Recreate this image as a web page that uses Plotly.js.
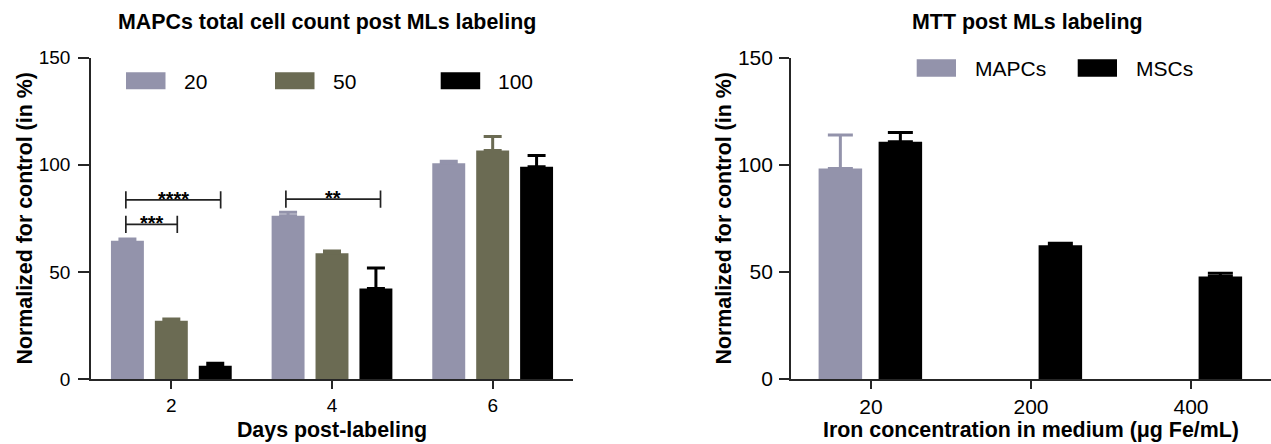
<!DOCTYPE html>
<html>
<head>
<meta charset="utf-8">
<script src="https://cdn.plot.ly/plotly-3.0.1.min.js"></script>
<style>html,body{margin:0;padding:0;background:#fff;}#chart{width:1271px;height:444px;}</style>
</head>
<body>
<div id="chart"></div>
<script>
// ---------- data ----------
const dayCategories = ['2', '4', '6'];
const doseNames = ['20', '50', '100'];
const dose20 = [64.6, 76.2, 100.7];
const dose20Err = [0.8, 1.6, 1.0];
const dose50 = [27.2, 58.7, 106.7];
const dose50Err = [0.8, 1.0, 6.5];
const dose100 = [6.2, 42.2, 99.1];
const dose100Err = [1.2, 9.6, 5.2];

const ironCategories = ['20', '200', '400'];
const cellNames = ['MAPCs', 'MSCs'];
const mapcsMTT = [98.3, null, null];
const mapcsMTTErr = [15.6, null, null];
const mscsMTT = [110.8, 62.5, 47.8];
const mscsMTTErr = [4.3, 0.9, 1.6];

// significance brackets on the left chart (category index units, value units)
const sigFrom = [-0.283, -0.283, 0.713];
const sigTo = [0.307, 0.037, 1.302];
const sigLevel = [83.6, 72.2, 84.0];
const sigLabel = ['****', '***', '**'];

// ---------- style ----------
const FONT = 'Liberation Sans, Arial, Helvetica, sans-serif';
const W = 1271, H = 444;
const colorsLeft = ['#9393ab', '#6b6b53', '#000000'];
const colorsRight = ['#9393ab', '#000000'];
const axisColor = '#262626';
const BOLD = 21.4;
const px = v => v / W;
const py = v => 1 - v / H;

const leftSeries = [dose20, dose50, dose100];
const leftErr = [dose20Err, dose50Err, dose100Err];
const rightSeries = [mapcsMTT, mscsMTT];
const rightErr = [mapcsMTTErr, mscsMTTErr];
const rightOffset = [-0.3275, 0.0475];

const traces = [];
leftSeries.forEach((vals, i) => {
  traces.push({
    type: 'bar', x: dayCategories, y: vals, name: doseNames[i],
    xaxis: 'x', yaxis: 'y',
    marker: {color: colorsLeft[i], line: {width: 0}},
    error_y: {type: 'data', symmetric: false, array: leftErr[i],
      arrayminus: leftErr[i].map(() => 0), color: colorsLeft[i], thickness: 3, width: 9},
    showlegend: false, hoverinfo: 'x+y'
  });
});
rightSeries.forEach((vals, i) => {
  traces.push({
    type: 'bar', x: ironCategories, y: vals, name: cellNames[i],
    xaxis: 'x2', yaxis: 'y2',
    width: 0.272, offset: rightOffset[i],
    marker: {color: colorsRight[i], line: {width: 0}},
    error_y: {type: 'data', symmetric: false, array: rightErr[i],
      arrayminus: rightErr[i].map(v => v === null ? null : 0), color: colorsRight[i], thickness: 3, width: 12.5},
    showlegend: false, hoverinfo: 'x+y'
  });
});

const shapes = [];
const annotations = [];

// brackets
sigFrom.forEach((x0, i) => {
  const x1 = sigTo[i], y = sigLevel[i], h = 4;
  const line = {color: '#222', width: 1.7};
  shapes.push({type: 'line', xref: 'x', yref: 'y', x0: x0, x1: x1, y0: y, y1: y, line});
  shapes.push({type: 'line', xref: 'x', yref: 'y', x0: x0, x1: x0, y0: y - h, y1: y + h, line});
  shapes.push({type: 'line', xref: 'x', yref: 'y', x0: x1, x1: x1, y0: y - h, y1: y + h, line});
  annotations.push({xref: 'x', yref: 'y', x: (x0 + x1) / 2, y: y, text: '<b>' + sigLabel[i] + '</b>',
    showarrow: false, xanchor: 'center', yanchor: 'middle', yshift: 1,
    font: {family: FONT, size: 20, color: '#000'}});
});

// custom legends
const legLeftSwatch = [126, 275, 440.7];
doseNames.forEach((n, i) => {
  shapes.push({type: 'rect', xref: 'paper', yref: 'paper', x0: px(legLeftSwatch[i]), x1: px(legLeftSwatch[i] + 39.5),
    y0: py(89.3), y1: py(72.3), fillcolor: colorsLeft[i], line: {width: 0}});
  annotations.push({xref: 'paper', yref: 'paper', x: px(legLeftSwatch[i] + 55.5), y: py(81), text: n,
    showarrow: false, xanchor: 'left', yanchor: 'middle', font: {family: FONT, size: 21, color: '#000'}});
});
const legRightSwatch = [916.7, 1077.7];
cellNames.forEach((n, i) => {
  shapes.push({type: 'rect', xref: 'paper', yref: 'paper', x0: px(legRightSwatch[i]), x1: px(legRightSwatch[i] + 39.3),
    y0: py(76.7), y1: py(59.3), fillcolor: colorsRight[i], line: {width: 0}});
  annotations.push({xref: 'paper', yref: 'paper', x: px(legRightSwatch[i] + 56), y: py(68), text: n,
    showarrow: false, xanchor: 'left', yanchor: 'middle', font: {family: FONT, size: 21, color: '#000'}});
});

// chart titles
annotations.push({xref: 'paper', yref: 'paper', x: px(327), y: py(22), text: '<b>MAPCs total cell count post MLs labeling</b>',
  showarrow: false, xanchor: 'center', yanchor: 'middle', font: {family: FONT, size: BOLD, color: '#000'}});
annotations.push({xref: 'paper', yref: 'paper', x: px(1027), y: py(22), text: '<b>MTT post MLs labeling</b>',
  showarrow: false, xanchor: 'center', yanchor: 'middle', font: {family: FONT, size: BOLD, color: '#000'}});

const yTitle = '<b>Normalized for control (in %)</b>';
const baseX = {
  type: 'category', range: [-0.5, 2.5], showgrid: false, zeroline: false,
  showline: true, linecolor: axisColor, linewidth: 1.7,
  ticks: 'outside', ticklen: 8, tickwidth: 1.5, tickcolor: axisColor,
  fixedrange: true
};
const baseY = {
  range: [0, 150], tickvals: [0, 50, 100, 150], showgrid: false, zeroline: false,
  showline: true, linecolor: axisColor, linewidth: 1.7,
  ticks: 'outside', ticklen: 11, tickwidth: 1.5, tickcolor: axisColor,
  fixedrange: true
};

const layout = {
  width: W, height: H,
  margin: {l: 0, r: 0, t: 0, b: 0},
  paper_bgcolor: '#fff', plot_bgcolor: '#fff',
  font: {family: FONT, color: '#000'},
  barmode: 'group', bargap: 0.18, bargroupgap: 0.25,
  showlegend: false,
  xaxis: Object.assign({}, baseX, {
    domain: [px(91), px(573)], anchor: 'y',
    tickfont: {family: FONT, size: 19, color: '#000'},
    title: {text: '<b>Days post-labeling</b>', standoff: 7, font: {family: FONT, size: BOLD, color: '#000'}}
  }),
  yaxis: Object.assign({}, baseY, {
    domain: [1 - 379 / H, py(57.7)], anchor: 'x',
    tickfont: {family: FONT, size: 19, color: '#000'}, ticklabelstandoff: 4,
    title: {text: yTitle, standoff: 0, font: {family: FONT, size: BOLD, color: '#000'}}
  }),
  xaxis2: Object.assign({}, baseX, {
    domain: [px(791), 1], anchor: 'y2',
    tickfont: {family: FONT, size: 21, color: '#000'},
    title: {text: '<b>Iron concentration in medium (μg Fe/mL)</b>', standoff: 5, font: {family: FONT, size: BOLD, color: '#000'}}
  }),
  yaxis2: Object.assign({}, baseY, {
    domain: [1 - 379 / H, py(57.7)], anchor: 'x2', ticklen: 10,
    tickfont: {family: FONT, size: 21, color: '#000'}, ticklabelstandoff: 2,
    title: {text: yTitle, standoff: 0, font: {family: FONT, size: BOLD, color: '#000'}}
  }),
  shapes: shapes,
  annotations: annotations
};

Plotly.newPlot('chart', traces, layout, {displayModeBar: false, responsive: false});
</script>
</body>
</html>
